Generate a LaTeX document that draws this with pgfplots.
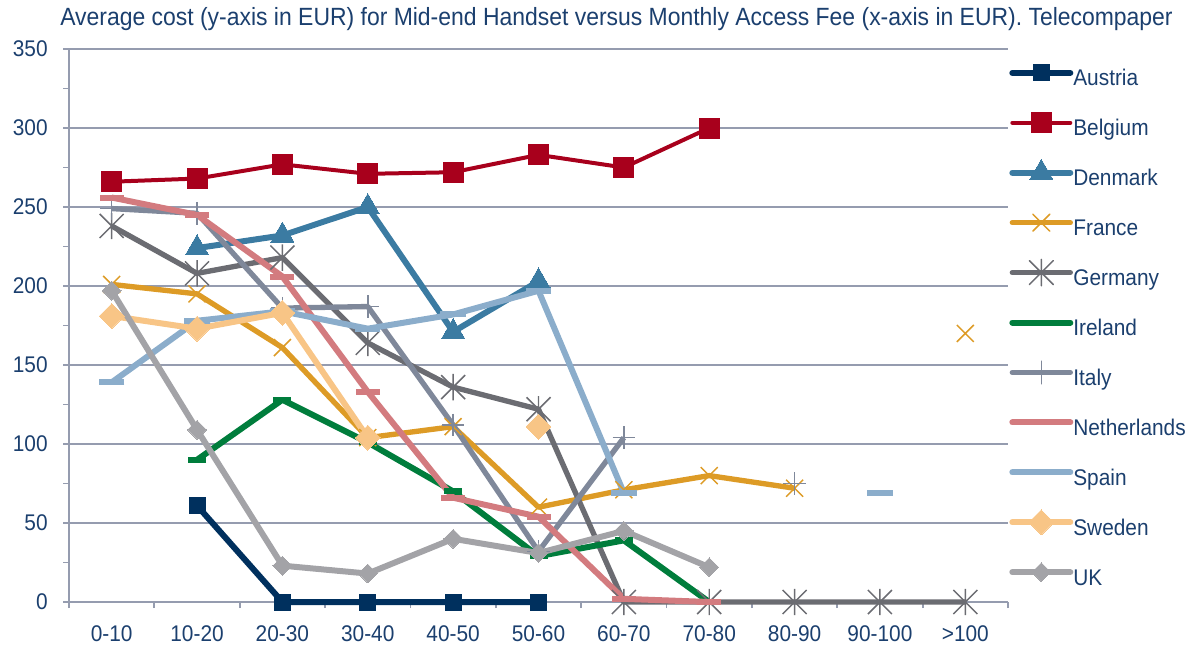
\documentclass[border=0pt]{standalone}
\usepackage{pgfplots}
\usepackage{pgfplotstable}
\pgfplotsset{compat=1.18}
\usepackage{fontspec}
\setmainfont{Liberation Sans}[FakeStretch=0.92]

\definecolor{txtblue}{HTML}{1B3F6E}
\definecolor{gridc}{HTML}{959CAF}
\definecolor{cAut}{HTML}{00305E}
\definecolor{cBel}{HTML}{A8001C}
\definecolor{cDen}{HTML}{3B7BA2}
\definecolor{cFra}{HTML}{DD9B26}
\definecolor{cGer}{HTML}{6B6C72}
\definecolor{cIrl}{HTML}{007D3C}
\definecolor{cIta}{HTML}{7F889A}
\definecolor{cNed}{HTML}{D37B7F}
\definecolor{cSpa}{HTML}{8BADCB}
\definecolor{cSwe}{HTML}{F8C586}
\definecolor{cUK}{HTML}{A3A3A7}

% x with a vertical stroke, like the spreadsheet "star" marker
\pgfdeclareplotmark{xstar}{%
  \pgfpathmoveto{\pgfqpoint{-\pgfplotmarksize}{-\pgfplotmarksize}}%
  \pgfpathlineto{\pgfqpoint{\pgfplotmarksize}{\pgfplotmarksize}}%
  \pgfpathmoveto{\pgfqpoint{-\pgfplotmarksize}{\pgfplotmarksize}}%
  \pgfpathlineto{\pgfqpoint{\pgfplotmarksize}{-\pgfplotmarksize}}%
  \pgfpathmoveto{\pgfqpoint{0pt}{-1.1\pgfplotmarksize}}%
  \pgfpathlineto{\pgfqpoint{0pt}{1.1\pgfplotmarksize}}%
  \pgfusepathqstroke}

% categories 0-10 ... >100 at x = 0..10, nan = no value
\pgfplotstableread{
x  aut bel den fra ger irl ita ned spa swe uk
0  nan 266 nan 201 238 nan 249 256 139 181 197
1  61  268 224 195 208 90  246 245 178 173 109
2  0   277 232 161 218 128 186 206 184 183 23
3  0   271 250 104 164 101 187 133 173 104 18
4  0   272 171 111 136 70  112 66  182 nan 40
5  0   283 203 60  122 29  32  54  197 111 31
6  nan 275 nan 71  0   39  104 2   69  nan 45
7  nan 300 nan 80  0   0   nan 0   nan nan 22
8  nan nan nan 72  0   nan 75  nan nan nan nan
9  nan nan nan nan 0   nan nan nan 69  nan nan
10 nan nan nan 170 0   nan nan nan nan nan nan
}\data

\begin{document}
\begin{tikzpicture}
\begin{axis}[
  scale only axis,
  width=704.25pt, height=414.75pt,
  xmin=-0.5, xmax=10.5, ymin=0, ymax=350,
  axis x line*=bottom, axis y line*=left,
  axis line style={gridc, line width=1.3pt},
  xtick={0,...,10},
  xticklabels={0-10,10-20,20-30,30-40,40-50,50-60,60-70,70-80,80-90,90-100,>100},
  minor xtick={-0.5,0.5,...,10.5},
  major x tick style={draw=none},
  ytick={0,50,...,350},
  minor ytick={25,75,...,325},
  tick align=outside,
  major tick length=4.5pt, minor tick length=4.5pt,
  tick style={gridc, line width=1.3pt},
  ymajorgrids,
  grid style={gridc, line width=1.3pt},
  ticklabel style={font=\fontsize{17}{19}\selectfont, text=txtblue},
  yticklabel style={xshift=-8pt},
  xticklabel style={yshift=-10pt},
  /pgf/number format/assume math mode=true,
  clip=false,
  unbounded coords=jump,
  line join=round,
  legend cell align=left,
  legend style={draw=none, fill=none, inner sep=0pt,
    at={(rel axis cs:1.0043,0.973)}, anchor=north west,
    font=\fontsize{17}{19}\selectfont, text=txtblue,
    nodes={inner sep=0pt, text height=12pt, text depth=3.5pt},
    row sep=17.7pt, column sep=0pt},
  legend image code/.code={%
    \draw[mark repeat=2, mark phase=2, line cap=round, overlay, #1]
      plot coordinates {(0pt,5.5pt) (21.75pt,5.5pt) (43.5pt,5.5pt)};
    \path[draw=none, fill=none] (0pt,-3.5pt) rectangle (45.75pt,12pt);},
]
\addplot[cAut, line width=4.5pt, mark=square*, mark size=6pt,
  mark options={line width=0pt}] table[x=x, y=aut] {\data};
\addlegendentry{Austria}
\addplot[cBel, line width=3pt, mark=square*, mark size=7.5pt,
  mark options={line width=0pt}] table[x=x, y=bel] {\data};
\addlegendentry{Belgium}
\addplot[cDen, line width=4.5pt, mark=triangle*, mark size=10pt,
  mark options={line width=0pt}] table[x=x, y=den] {\data};
\addlegendentry{Denmark}
\addplot[cFra, line width=4pt, mark=x, mark size=9pt,
  mark options={line width=1.1pt}] table[x=x, y=fra] {\data};
\addlegendentry{France}
\addplot[cGer, line width=4pt, mark=xstar, mark size=9pt,
  mark options={line width=1.1pt}] table[x=x, y=ger] {\data};
\addlegendentry{Germany}
\addplot[cIrl, line width=4.5pt, mark=-, mark size=6.75pt,
  mark options={line width=4.5pt}] table[x=x, y=irl] {\data};
\addlegendentry{Ireland}
\addplot[cIta, line width=4pt, mark=+, mark size=8.5pt,
  mark options={line width=1.1pt}] table[x=x, y=ita] {\data};
\addlegendentry{Italy}
\addplot[cNed, line width=4.5pt, mark=-, mark size=9pt,
  mark options={line width=4.5pt}] table[x=x, y=ned] {\data};
\addlegendentry{Netherlands}
\addplot[cSpa, line width=4.5pt, mark=-, mark size=9.5pt,
  mark options={line width=4.5pt}] table[x=x, y=spa] {\data};
\addlegendentry{Spain}
\addplot[cSwe, line width=4.5pt, mark=square*, mark size=6.6pt,
  mark options={rotate=45, line width=0pt}] table[x=x, y=swe] {\data};
\addlegendentry{Sweden}
\addplot[cUK, line width=4.5pt, mark=square*, mark size=5pt,
  mark options={rotate=45, line width=0pt}] table[x=x, y=uk] {\data};
\addlegendentry{UK}
\end{axis}
\node[anchor=base west, text=txtblue, inner sep=0pt,
  font=\fontsize{18.7}{20}\selectfont] at (-6.75pt,432pt)
  {Average cost (y-axis in EUR) for Mid-end Handset versus Monthly Access Fee (x-axis in EUR). Telecompaper};
\pgfresetboundingbox
\path[use as bounding box] (-51.75pt,-36.75pt) rectangle (844.5pt,451.5pt);
\end{tikzpicture}
\end{document}
